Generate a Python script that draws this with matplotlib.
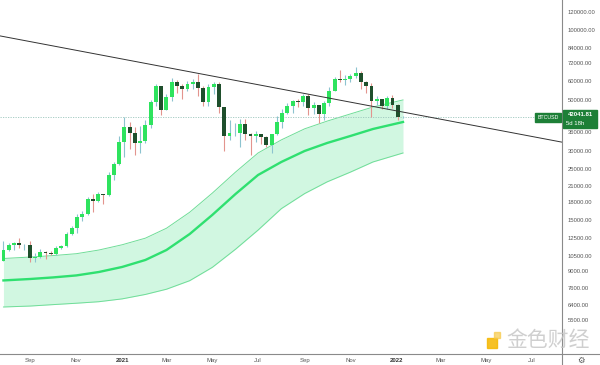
import matplotlib
matplotlib.use("Agg")
import matplotlib.pyplot as plt
import matplotlib.dates as mdates
from matplotlib.patches import Rectangle
import numpy as np
import pandas as pd

# weekly BTCUSD candles, week of 2020-07-27 .. week of 2022-01-10
weeks = pd.date_range("2020-07-27", "2022-01-10", freq="7D")
opens = [9930, 11050, 11680, 11910, 11650, 11710, 10250, 10330, 10920, 10770,
         10670, 11380, 11500, 13030, 13780, 15480, 15960, 18400, 18180, 19360,
         19150, 23480, 26280, 32780, 38150, 35800, 32260, 33100, 38900, 48600,
         57500, 45200, 51200, 59800, 57350, 55800, 58200, 59800, 56200, 49000,
         56600, 58200, 46400, 34700, 35700, 35800, 39100, 35500, 34700, 35300,
         34300, 31800, 35400, 39900, 43800, 47000, 49300, 48800, 51800, 46000,
         47300, 43200, 48200, 54700, 61500, 60900, 61300, 63300, 65500, 59700,
         57300, 49400, 50100, 46700, 50800, 47300, 41900]
highs = [12120, 11900, 12080, 12470, 11800, 12090, 10790, 11180, 10990, 10960,
         11500, 11720, 13350, 14100, 15970, 16480, 18950, 19470, 19900, 19420,
         24250, 26800, 34800, 41950, 40100, 37850, 38530, 40950, 49700, 58350,
         57500, 52650, 61800, 60600, 58400, 60200, 61300, 64850, 57500, 58400,
         59600, 59500, 46600, 40900, 39500, 41300, 41000, 35700, 36600, 35300,
         34700, 35400, 42600, 45300, 48100, 49900, 50500, 52900, 52900, 48800,
         47300, 49200, 56500, 62900, 67000, 63700, 64300, 69000, 66400, 59900,
         59200, 51900, 50300, 51900, 52100, 47600, 42300]
lows = [9900, 10950, 11140, 11350, 11120, 9880, 9880, 10200, 10140, 10520,
        10530, 11230, 11420, 12950, 13200, 14800, 15790, 16200, 18000, 17600,
        19000, 22350, 25900, 28130, 30420, 28850, 29240, 32300, 37500, 47000,
        43000, 45000, 49100, 53300, 50400, 54700, 55500, 51550, 47000, 47100,
        53000, 43800, 30000, 33400, 34800, 31000, 33300, 28800, 32700, 32000,
        31000, 29300, 35200, 37600, 43200, 43900, 46400, 46800, 42800, 43400,
        39600, 40800, 46900, 54400, 59500, 57800, 59400, 62300, 55600, 53300,
        42000, 47300, 45500, 45600, 45900, 40600, 41700]
closes = [11050, 11680, 11910, 11650, 11710, 10250, 10330, 10920, 10770, 10670,
          11380, 11500, 13030, 13780, 15480, 15960, 18400, 18180, 19360, 19150,
          23480, 26280, 32780, 38150, 35800, 32260, 33100, 38900, 48600, 57500,
          45200, 51200, 59800, 57350, 55800, 58200, 59800, 56200, 49000, 56600,
          58200, 46400, 34700, 35700, 35800, 39100, 35500, 34700, 35300, 34300,
          31800, 35400, 39900, 43800, 47000, 49300, 48800, 51800, 46000, 47300,
          43200, 48200, 54700, 61500, 60900, 61300, 63300, 65500, 59700, 57300,
          49400, 50100, 46700, 50800, 47300, 41900, 42041.81]
last_price = 42041.81

# band indicator (middle / upper / lower)
band_dates = pd.to_datetime(["2020-07-27", "2020-09-01", "2020-10-01", "2020-11-01",
                             "2020-12-01", "2021-01-01", "2021-02-01", "2021-03-01",
                             "2021-04-01", "2021-05-01", "2021-06-01", "2021-07-01",
                             "2021-08-01", "2021-09-01", "2021-10-01", "2021-11-01",
                             "2021-12-01", "2022-01-10"])
band_mid = [8190, 8310, 8440, 8610, 8910, 9370, 10050, 11100, 13030, 15760,
            19440, 23510, 26780, 29890, 32380, 34730, 37240, 39940]
band_up = [10200, 10350, 10500, 10700, 11100, 11700, 12500, 13800, 16200, 19600,
           24200, 29300, 33400, 37300, 40300, 43300, 46400, 49800]
band_low = [6280, 6340, 6430, 6520, 6620, 6810, 7120, 7500, 8170, 9330,
            11190, 13550, 16790, 19520, 21950, 24200, 26780, 29300]

# trend line anchors
trend_pts = [("2021-04-14", 64800), ("2022-01-10", 44100)]

y_ticks = [5500, 6400, 7600, 9000, 10500, 12500, 15000, 18000, 21000, 25000,
           30000, 36000, 50000, 60000, 72000, 84000, 100000, 120000]
x_ticks = ["2020-09-01", "2020-11-01", "2021-01-01", "2021-03-01", "2021-05-01",
           "2021-07-01", "2021-09-01", "2021-11-01", "2022-01-01", "2022-03-01",
           "2022-05-01", "2022-07-01"]
x_labels = ["Sep", "Nov", "2021", "Mar", "May", "Jul", "Sep", "Nov", "2022", "Mar",
            "May", "Jul"]

W, H = 600, 365
fig = plt.figure(figsize=(6, 3.65), dpi=100)
fig.patch.set_facecolor("white")
ax = fig.add_axes([0, 11 / H, 562 / W, 354 / H])
ax.set_yscale("log")

t = mdates.date2num(weeks)
o, h, l, c = map(np.array, (opens, highs, lows, closes))
up = c >= o
up_body, up_wick = "#2ee35e", "#8cc3cf"
dn_body, dn_wick = "#1f4f2c", "#e3948e"
bw = 5.2
ax.vlines(t[up], l[up], h[up], color=up_wick, lw=0.8, zorder=3)
ax.vlines(t[~up], l[~up], h[~up], color=dn_wick, lw=0.8, zorder=3)
ax.bar(t[up], c[up] - o[up], bottom=o[up], width=bw, color=up_body, lw=0, zorder=4)
ax.bar(t[~up], o[~up] - c[~up], bottom=c[~up], width=bw, color=dn_body, lw=0, zorder=4)

bt = mdates.date2num(band_dates)
ax.fill_between(bt, band_low, band_up, color="#c6f5da", alpha=0.8, lw=0, zorder=1)
ax.plot(bt, band_up, color="#6fdd98", lw=0.7, zorder=2)
ax.plot(bt, band_low, color="#6fdd98", lw=0.7, zorder=2)
ax.plot(bt, band_mid, color="#2fe070", lw=1.7, zorder=2)

p1 = (mdates.datestr2num(trend_pts[0][0]), trend_pts[0][1])
p2 = (mdates.datestr2num(trend_pts[1][0]), trend_pts[1][1])
ax.axline(p1, p2, color="#333333", lw=0.7, zorder=5)

ax.axhline(last_price, color="#9cc6bd", lw=0.6, ls=(0, (1.5, 1.5)), zorder=2)

t_end = mdates.datestr2num("2022-01-10")
ax.set_xlim(t_end - 536.6, t_end + 211.7)
ax.set_ylim(3924, 135300)

ax.yaxis.tick_right()
ax.set_yticks(y_ticks)
ax.set_yticklabels(["%.2f" % v for v in y_ticks])
ax.yaxis.set_minor_locator(matplotlib.ticker.NullLocator())
ax.tick_params(axis="y", length=0, pad=4, labelsize=4.2, labelcolor="#555555")
ax.set_xticks(mdates.datestr2num(x_ticks))
ax.set_xticklabels(x_labels)
ax.tick_params(axis="x", length=0, pad=3, labelsize=4.3, labelcolor="#555555")
for lab in ax.get_xticklabels():
    if lab.get_text().startswith("20"):
        lab.set_fontweight("bold")
        lab.set_color("#333333")
for lab in ax.get_xticklabels() + ax.get_yticklabels():
    lab.set_family("Liberation Sans")
for s in ax.spines.values():
    s.set_visible(False)

# axis frame lines
fig.add_artist(plt.Line2D([562 / W, 562 / W], [0, 1], color="#8a8a8a", lw=0.8))
fig.add_artist(plt.Line2D([0, 1], [11 / H, 11 / H], color="#8a8a8a", lw=0.8))


def fx(x):
    return x / W


def fy(y):
    return 1 - y / H


# price label on axis
fig.add_artist(Rectangle((fx(563), fy(128)), 34 / W, 18 / H, transform=fig.transFigure,
                         color="#1d7f37", zorder=10))
fig.text(fx(580), fy(115), "42041.81", color="white", fontsize=4.3, ha="center",
         va="center", family="Liberation Sans", fontweight="bold", zorder=11)
fig.text(fx(575), fy(123), "5d 18h", color="white", fontsize=4.3, ha="center",
         va="center", family="Liberation Sans", zorder=11)
fig.add_artist(Rectangle((fx(535), fy(122)), 26 / W, 9 / H, transform=fig.transFigure,
                         color="#1d7f37", zorder=10))
fig.text(fx(548), fy(117.5), "BTCUSD", color="white", fontsize=3.8, ha="center",
         va="center", family="Liberation Sans", zorder=11)

# corner icon and watermark
fig.text(fx(581), fy(360), "\u2699", color="#555555", fontsize=6, ha="center",
         va="center", family="DejaVu Sans")
fig.add_artist(Rectangle((fx(487), fy(348)), 10 / W, 10 / H, transform=fig.transFigure,
                         color="#f5b700", alpha=0.85, zorder=9))
fig.add_artist(Rectangle((fx(494), fy(338)), 6 / W, 6 / H, transform=fig.transFigure,
                         color="#f7c948", alpha=0.7, zorder=9))
fig.text(fx(548), fy(340), "金色财经", color="#c4c4c4", fontsize=15, ha="center",
         va="center", family=["Noto Sans CJK SC", "DejaVu Sans"], alpha=0.8, zorder=9)

fig.savefig("out.png", dpi=100, facecolor="white")
